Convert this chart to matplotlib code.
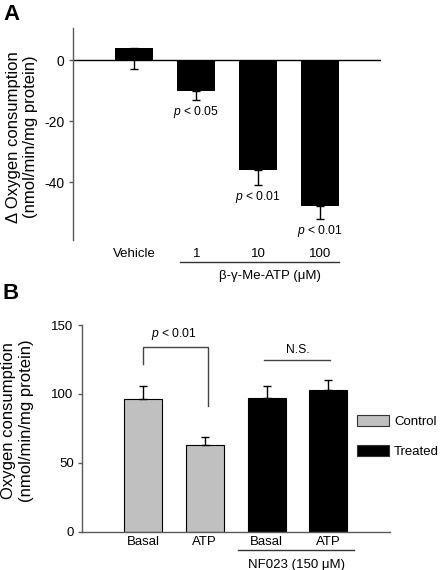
import matplotlib
matplotlib.use("Agg")
import matplotlib.pyplot as plt
from matplotlib.patches import Patch

plt.rcParams["font.family"] = ["Liberation Sans", "DejaVu Sans"]
plt.rcParams["mathtext.fontset"] = "custom"
plt.rcParams["mathtext.rm"] = "Liberation Sans"
plt.rcParams["mathtext.it"] = "Liberation Sans:italic"
plt.rcParams["axes.unicode_minus"] = False

# Panel A: change in oxygen consumption
a_labels = ["Vehicle", "1", "10", "100"]
a_values = [4, -10, -36, -48]
a_err_low = [7, 3, 5, 4]
a_pvals = ["", "$p$ < 0.05", "$p$ < 0.01", "$p$ < 0.01"]
a_yticks = [0, -20, -40]

# Panel B: oxygen consumption, control vs treated
b_labels = ["Basal", "ATP", "Basal", "ATP"]
b_values = [96, 63, 97, 103]
b_err_up = [10, 6, 9, 7]
b_groups = ["Control", "Control", "Treated", "Treated"]
b_yticks = [0, 50, 100, 150]

GREY = "#c0c0c0"
AXC = "#5a5a5a"
colors = {"Control": GREY, "Treated": "black"}

W, H = 442, 570
fig = plt.figure(figsize=(W / 100, H / 100), dpi=100)


def px_axes(l, r, t, b):
    return fig.add_axes([l / W, 1 - b / H, (r - l) / W, (b - t) / H])


def style(ax, size):
    for s in ["top", "right", "bottom"]:
        ax.spines[s].set_visible(False)
    ax.spines["left"].set_color(AXC)
    ax.spines["left"].set_linewidth(1)
    ax.tick_params(axis="y", direction="out", length=3, width=1, color=AXC,
                   labelsize=size, pad=3)


# ---------------- A ----------------
ax = px_axes(73, 381, 28, 240)
xa = list(range(len(a_values)))
ax.bar(xa, a_values, width=0.61, color="black", zorder=2)
ax.errorbar(xa, a_values, yerr=[a_err_low, [0] * len(xa)], fmt="none",
            ecolor="black", elinewidth=1, capsize=3, capthick=1, zorder=3)
ax.axhline(0, color="black", lw=1, zorder=1)
ax.set_xlim(-0.99, 3.98)
ax.set_ylim(-59, 10.5)
style(ax, 10)
ax.set_yticks(a_yticks)
ax.set_xticks(xa, a_labels)
ax.tick_params(axis="x", length=0, labelsize=9.5, pad=6)
for x, v, e, p in zip(xa, a_values, a_err_low, a_pvals):
    if p:
        ax.annotate(p, (x, v - e), xytext=(0, -3), textcoords="offset points",
                    ha="center", va="top", fontsize=8.7)
trA = ax.get_xaxis_transform()
ax.plot([0.73, 3.31], [-0.104, -0.104], color="#333333", lw=1,
        transform=trA, clip_on=False)
ax.text(2.19, -0.168, "β-γ-Me-ATP (μM)", transform=trA, ha="center",
        va="center", fontsize=9.5)

fig.text(14 / W, 1 - 137 / H, "Δ Oxygen consumption", rotation=90,
         ha="center", va="center", fontsize=12)
fig.text(31 / W, 1 - 137 / H, "(nmol/min/mg protein)", rotation=90,
         ha="center", va="center", fontsize=12)
fig.text(3 / W, 1 - 4 / H, "A", ha="left", va="top", fontsize=16,
         fontweight="bold")

# ---------------- B ----------------
bx = px_axes(82, 390, 325, 531.5)
xb = list(range(len(b_values)))
bx.bar(xb, b_values, width=0.615, color=[colors[g] for g in b_groups],
       edgecolor="black", linewidth=0.8, zorder=2)
bx.errorbar(xb, b_values, yerr=[[0] * len(xb), b_err_up], fmt="none",
            ecolor="black", elinewidth=1, capsize=3, capthick=1, zorder=3)
bx.set_xlim(-0.99, 4.0)
bx.set_ylim(0, 150)
style(bx, 9.5)
bx.spines["bottom"].set_visible(True)
bx.spines["bottom"].set_color(AXC)
bx.spines["bottom"].set_linewidth(1)
bx.set_yticks(b_yticks)
bx.set_xticks(xb, b_labels)
bx.tick_params(axis="x", length=0, labelsize=9.5, pad=3)

# significance bracket
bx.plot([0, 0, 1.05, 1.05], [122, 134, 134, 91], color="#444444", lw=1)
bx.text(0.5, 137.5, "$p$ < 0.01", ha="center", va="bottom", fontsize=8.7)
bx.plot([1.96, 3.03], [124.5, 124.5], color="#444444", lw=1)
bx.text(2.5, 127.5, "N.S.", ha="center", va="bottom", fontsize=8.7)

trB = bx.get_xaxis_transform()
bx.plot([1.54, 3.41], [-0.09, -0.09], color="#333333", lw=1,
        transform=trB, clip_on=False)
bx.text(2.48, -0.162, "NF023 (150 μM)", transform=trB, ha="center",
        va="center", fontsize=9.5)

handles = [Patch(facecolor=colors[g], edgecolor="#333333", linewidth=0.8)
           for g in ["Control", "Treated"]]
bx.legend(handles, ["Control", "Treated"], loc="upper left",
          bbox_to_anchor=(0.893, 0.566), frameon=False, fontsize=9.5,
          handlelength=2.4, handleheight=0.95, handletextpad=0.4,
          labelspacing=1.3, borderpad=0, borderaxespad=0)

fig.text(9 / W, 1 - 421 / H, "Oxygen consumption", rotation=90,
         ha="center", va="center", fontsize=12)
fig.text(27 / W, 1 - 421 / H, "(nmol/min/mg protein)", rotation=90,
         ha="center", va="center", fontsize=12)
fig.text(3 / W, 1 - 283 / H, "B", ha="left", va="top", fontsize=16,
         fontweight="bold")

fig.savefig("out.png", dpi=100, facecolor="white")
